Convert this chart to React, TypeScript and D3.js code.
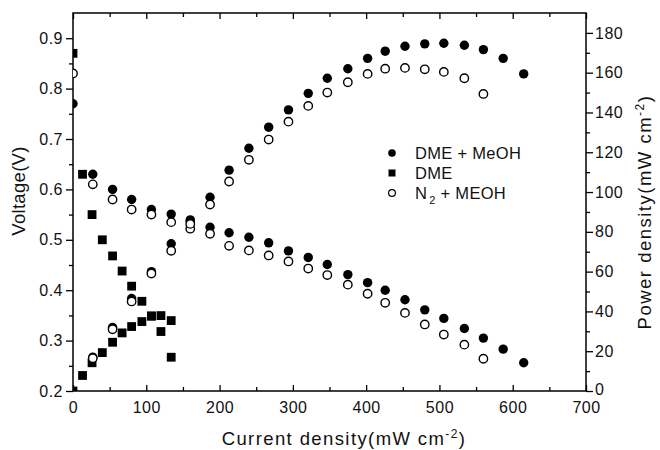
import React, { useRef, useEffect } from "react";
import * as d3 from "d3";

// DME + MeOH (filled circles)
const currentMix = [0, 27, 54, 80, 107, 134, 160, 187, 213, 240, 267, 294, 321, 347, 375, 402, 426, 453, 480, 506, 534, 560, 587, 615];
const voltageMix = [0.77, 0.63, 0.6, 0.58, 0.56, 0.551, 0.537, 0.525, 0.514, 0.505, 0.494, 0.478, 0.465, 0.451, 0.431, 0.415, 0.4, 0.381, 0.361, 0.344, 0.324, 0.305, 0.283, 0.256];
const powerMix = [null, 17, 32, 46.5, 60, 74, 86, 97.4, 111, 122, 132.6, 141.3, 149.6, 157.2, 162, 167.2, 170.8, 173.3, 174.5, 174.8, 173.8, 171.6, 167.2, 159.4];

// DME (filled squares)
const currentDme = [0, 13, 26, 40, 54, 67, 80, 94, 107, 120, 134];
const voltageDme = [0.87, 0.63, 0.55, 0.5, 0.468, 0.438, 0.408, 0.378, 0.349, 0.318, 0.267];
const powerDme = [0, 7.8, 14.2, 19.3, 24.5, 29.2, 32.4, 34.9, 37.6, 37.9, 35.4];

// N2 + MEOH (open circles)
const currentN2 = [0, 27, 54, 80, 107, 134, 160, 187, 213, 240, 267, 294, 321, 347, 375, 402, 426, 453, 480, 506, 534, 560];
const voltageN2 = [0.83, 0.61, 0.58, 0.56, 0.55, 0.535, 0.522, 0.512, 0.488, 0.479, 0.469, 0.457, 0.443, 0.43, 0.411, 0.393, 0.375, 0.355, 0.332, 0.312, 0.292, 0.264];
const powerN2 = [null, 16.5, 31, 45, 59, 70.5, 84, 93.7, 105.3, 116.2, 126.4, 135.4, 143.3, 150, 155.2, 159.4, 162, 162.4, 161.7, 160.4, 157.2, 149.3];

const xTicks = [0, 100, 200, 300, 400, 500, 600, 700];
const voltTicks = [0.2, 0.3, 0.4, 0.5, 0.6, 0.7, 0.8, 0.9];
const powerTicks = [0, 20, 40, 60, 80, 100, 120, 140, 160, 180];
const legendLabels = ["DME + MeOH", "DME", "N2 + MEOH"];

const FONT = "'Liberation Sans', Arial, sans-serif";

export default function App() {
  const svgRef = useRef(null);

  useEffect(() => {
    const W = 660, H = 450;
    const left = 73, right = 586, top = 13, bottom = 391;
    const svg = d3.select(svgRef.current).attr("width", W).attr("height", H);
    svg.selectAll("*").remove();

    const x = d3.scaleLinear().domain([0, 700]).range([left, right]);
    const yV = d3.scaleLinear().domain([0.2, 0.95]).range([bottom, top]);
    const yP = d3.scaleLinear().domain([0, 190]).range([bottom, top]);

    svg.append("rect").attr("width", W).attr("height", H).attr("fill", "#fff");

    svg.append("defs").append("clipPath").attr("id", "plotclip")
      .append("rect").attr("x", left).attr("y", top)
      .attr("width", right - left).attr("height", bottom - top);

    // axes
    const styleAxis = (g) => {
      g.select(".domain").remove();
      g.selectAll("line").attr("stroke", "#000").attr("stroke-width", 1.3);
      g.selectAll("text").attr("font-family", FONT).attr("font-size", 16)
        .attr("letter-spacing", 0.5).attr("fill", "#111");
    };
    const minorX = d3.range(50, 700, 100);
    const minorV = [0.25, 0.35, 0.45, 0.55, 0.65, 0.75, 0.85];
    const minorP = d3.range(10, 190, 20);

    svg.append("g").attr("transform", `translate(0,${bottom})`)
      .call(d3.axisBottom(x).tickValues(xTicks).tickSizeInner(-6).tickSizeOuter(0).tickPadding(11).tickFormat(d3.format("d")))
      .call(styleAxis);
    svg.append("g").attr("transform", `translate(0,${bottom})`)
      .call(d3.axisBottom(x).tickValues(minorX).tickSizeInner(-4).tickSizeOuter(0).tickFormat(() => ""))
      .call(styleAxis);
    svg.append("g").attr("transform", `translate(0,${top})`)
      .call(d3.axisTop(x).tickValues(xTicks).tickSizeInner(-6).tickSizeOuter(0).tickFormat(() => ""))
      .call(styleAxis);
    svg.append("g").attr("transform", `translate(0,${top})`)
      .call(d3.axisTop(x).tickValues(minorX).tickSizeInner(-4).tickSizeOuter(0).tickFormat(() => ""))
      .call(styleAxis);

    svg.append("g").attr("transform", `translate(${left},0)`)
      .call(d3.axisLeft(yV).tickValues(voltTicks).tickSizeInner(7).tickSizeOuter(0).tickPadding(3).tickFormat(d3.format(".1f")))
      .call(styleAxis);
    svg.append("g").attr("transform", `translate(${left},0)`)
      .call(d3.axisLeft(yV).tickValues(minorV).tickSizeInner(4).tickSizeOuter(0).tickFormat(() => ""))
      .call(styleAxis);

    const rightAxis = svg.append("g").attr("transform", `translate(${right},0)`)
      .call(d3.axisRight(yP).tickValues(powerTicks).tickSizeInner(7).tickSizeOuter(0).tickPadding(2).tickFormat(d3.format("d")))
      .call(styleAxis);
    // the "0" label sits a little higher, clear of the "700" below it
    rightAxis.selectAll(".tick").filter(d => d === 0).select("text").attr("dy", "0.2em");
    svg.append("g").attr("transform", `translate(${right},0)`)
      .call(d3.axisRight(yP).tickValues(minorP).tickSizeInner(4).tickSizeOuter(0).tickFormat(() => ""))
      .call(styleAxis);

    svg.append("rect").attr("x", left).attr("y", top)
      .attr("width", right - left).attr("height", bottom - top)
      .attr("fill", "none").attr("stroke", "#000").attr("stroke-width", 1.5);

    // markers
    const plot = svg.append("g").attr("clip-path", "url(#plotclip)");
    const pairs = (xs, ys) => xs.map((c, i) => [c, ys[i]]).filter(d => d[1] != null);

    const mixPts = pairs(currentMix, voltageMix).map(d => [x(d[0]), yV(d[1])])
      .concat(pairs(currentMix, powerMix).map(d => [x(d[0]), yP(d[1])]));
    plot.selectAll(".mix").data(mixPts).enter().append("circle")
      .attr("cx", d => d[0]).attr("cy", d => d[1]).attr("r", 4.7).attr("fill", "#000");

    const dmePts = pairs(currentDme, voltageDme).map(d => [x(d[0]), yV(d[1])])
      .concat(pairs(currentDme, powerDme).map(d => [x(d[0]), yP(d[1])]));
    plot.selectAll(".dme").data(dmePts).enter().append("rect")
      .attr("x", d => d[0] - 4.4).attr("y", d => d[1] - 4.4)
      .attr("width", 8.8).attr("height", 8.8).attr("fill", "#000");

    const n2Pts = pairs(currentN2, voltageN2).map(d => [x(d[0]), yV(d[1])])
      .concat(pairs(currentN2, powerN2).map(d => [x(d[0]), yP(d[1])]));
    plot.selectAll(".n2").data(n2Pts).enter().append("circle")
      .attr("cx", d => d[0]).attr("cy", d => d[1]).attr("r", 4.2)
      .attr("fill", "#fff").attr("stroke", "#000").attr("stroke-width", 1.4);

    // legend
    const lg = svg.append("g").attr("transform", "translate(392,153)");
    lg.append("circle").attr("cx", 0).attr("cy", 0).attr("r", 3.8).attr("fill", "#000");
    lg.append("rect").attr("x", -3.5).attr("y", 16.5).attr("width", 7).attr("height", 7).attr("fill", "#000");
    lg.append("circle").attr("cx", 0).attr("cy", 40).attr("r", 3.4)
      .attr("fill", "#fff").attr("stroke", "#000").attr("stroke-width", 1.2);
    const lt = (i) => lg.append("text").attr("x", 23).attr("y", i * 20).attr("dy", "0.36em")
      .attr("font-family", FONT).attr("font-size", 16.5).attr("letter-spacing", 0.3).attr("fill", "#111");
    lt(0).text(legendLabels[0]);
    lt(1).text(legendLabels[1]);
    const t3 = lt(2);
    t3.append("tspan").text("N");
    t3.append("tspan").attr("dx", 2).attr("dy", 5).attr("font-size", 11).text("2");
    t3.append("tspan").attr("dy", -5).text(legendLabels[2].slice(2));

    // axis titles
    const xt = svg.append("text").attr("x", 344).attr("y", 445).attr("text-anchor", "middle")
      .attr("font-family", FONT).attr("font-size", 18.5).attr("letter-spacing", 1.4).attr("fill", "#111");
    xt.append("tspan").text("Current density(mW cm");
    xt.append("tspan").attr("dy", -7).attr("font-size", 12).text("-2");
    xt.append("tspan").attr("dy", 7).text(")");

    svg.append("text").attr("transform", "translate(25,191) rotate(-90)").attr("text-anchor", "middle")
      .attr("font-family", FONT).attr("font-size", 18.5).attr("letter-spacing", 0.3).attr("fill", "#111").text("Voltage(V)");

    const rt = svg.append("text").attr("transform", "translate(651,212) rotate(-90)").attr("text-anchor", "middle")
      .attr("font-family", FONT).attr("font-size", 18.5).attr("letter-spacing", 1.5).attr("fill", "#111");
    rt.append("tspan").text("Power density(mW cm");
    rt.append("tspan").attr("dy", -7).attr("font-size", 12).text("-2");
    rt.append("tspan").attr("dy", 7).text(")");

    return () => { d3.select(svgRef.current).selectAll("*").remove(); };
  }, []);

  return <svg ref={svgRef} style={{ position: "absolute", left: 0, top: 0 }}></svg>;
}
